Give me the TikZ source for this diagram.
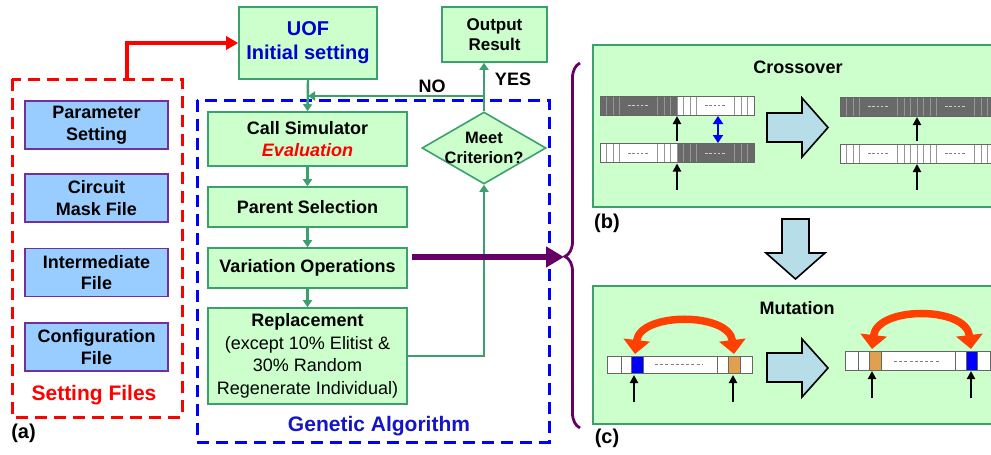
\documentclass[tikz,border=0pt]{standalone}
\usepackage{fontspec}
\setmainfont{Liberation Sans}
\usetikzlibrary{shapes.geometric,arrows.meta,decorations.pathreplacing,calc}
\definecolor{gfill}{RGB}{204,255,204}
\definecolor{gline}{RGB}{60,160,110}
\definecolor{bfill}{RGB}{153,204,255}
\definecolor{bline}{RGB}{112,48,160}
\definecolor{uofblue}{RGB}{0,0,204}
\definecolor{gablue}{RGB}{20,20,200}
\definecolor{purp}{RGB}{102,0,102}
\definecolor{lblue}{RGB}{183,221,232}
\definecolor{cellgray}{RGB}{105,105,105}
\definecolor{cellorange}{RGB}{224,160,80}
\definecolor{redarc}{RGB}{255,64,0}
\definecolor{divline}{RGB}{150,150,150}
\newcommand{\fs}[1]{\fontsize{#1}{1.2\dimexpr #1pt\relax}\selectfont}
% crossover chromosome: x0, y0, left fill, right fill, left dash colour, right dash colour
\newcommand{\xchrom}[6]{%
  \fill[#3] (#1,#2) rectangle ++(77,19);
  \fill[#4] ($(#1,#2)+(77,0)$) rectangle ++(77,19);
  \foreach \d in {6.5,13,19.5,57.5,64,70.5,77,83.5,90,96.5,134.5,141,147.5}
    \draw[cellline] ($(#1,#2)+(\d,0)$) -- ++(0,19);
  \draw[draw=gray!80!black,line width=0.9pt] (#1,#2) rectangle ++(154,19);
  \draw[#5,line width=0.7pt,dash pattern=on 2.5pt off 1.8pt] ($(#1,#2)+(28,9.5)$) -- ++(21,0);
  \draw[#6,line width=0.7pt,dash pattern=on 2.5pt off 1.8pt] ($(#1,#2)+(105,9.5)$) -- ++(21,0);
}
\begin{document}
\begin{tikzpicture}[x=1pt,y=-1pt,
  gbox/.style={draw=gline,fill=gfill,line width=1.6pt,align=center,inner sep=0pt,
    font={\fs{18}\bfseries}},
  bluebox/.style={draw=bline,fill=bfill,line width=1.6pt,align=center,inner sep=0pt,
    minimum width=143pt,minimum height=48pt,font={\fs{18}\bfseries}},
  garrow/.style={draw=gline,line width=2.4pt,-{Triangle[width=9pt,length=7pt]}},
  cellline/.style={draw=divline,line width=1pt},
  blackarrow/.style={draw=black,line width=2.2pt,-{Triangle[width=8pt,length=8pt]}},
  panel/.style={draw=gline,fill=gfill,line width=2pt,anchor=north west,inner sep=0pt},
  blockarrow/.style={draw=black,fill=lblue,line width=1.6pt,line join=miter},
  redarrow/.style={draw=redarc,line width=7.5pt,{Triangle[width=26pt,length=14pt]}-{Triangle[width=26pt,length=14pt]}},
  lbl/.style={font={\fs{18}\bfseries},inner sep=0pt}
]
\fill[white] (0,0) rectangle (991,455);
\clip (0,0) rectangle (991,455);

% ---------- (a) setting files ----------
\draw[red,line width=3pt,dash pattern=on 12pt off 7pt] (12,79) rectangle (182,417);
\node[bluebox] (param) at (96.5,125) {Parameter\\Setting};
\node[bluebox] (circ) at (96.5,198) {Circuit\\Mask File};
\node[bluebox] (inter) at (96.5,272.5) {Intermediate\\File};
\node[bluebox] (conf) at (96.5,347) {Configuration\\File};
\node[lbl,red,font={\fs{21}\bfseries}] (setf) at (94,395) {Setting Files};
\node[lbl,font={\fs{20}\bfseries}] (la) at (23.5,433) {(a)};

% ---------- GA box ----------
\draw[blue,line width=3pt,dash pattern=on 12pt off 7pt] (197,100) rectangle (549,442);
\node[lbl,gablue,font={\fs{21}\bfseries}] (gatext) at (379,426) {Genetic Algorithm};

\node[gbox,minimum width=138pt,minimum height=72pt,font={\fs{20}\bfseries},text=uofblue] (uof) at (308,43) {UOF\\Initial setting};
\node[gbox,minimum width=105pt,minimum height=55pt,font={\fs{17}\bfseries}] (out) at (494.5,34.5) {Output\\Result};
\node[gbox,minimum width=199pt,minimum height=54pt] (call) at (307.5,139) {Call Simulator\\\textcolor{red}{\itshape Evaluation}};
\node[gbox,minimum width=199pt,minimum height=40pt] (par) at (307.5,207) {Parent Selection};
\node[gbox,minimum width=199pt,minimum height=40pt] (var) at (307.5,268) {Variation Operations};
\node[gbox,minimum width=199pt,minimum height=96pt,font={\fs{18}},
  execute at begin node={\setlength{\baselineskip}{22.5pt}}] (repl) at (307.5,356)
  {\textbf{Replacement}\\(except 10\% Elitist \&\\30\% Random\\Regenerate Individual)};
\node[diamond,draw=gline,fill=gfill,line width=1.6pt,minimum width=124pt,minimum height=72pt,inner sep=0pt] (dia) at (484,148) {};
\node[align=center,inner sep=0pt,font={\fs{16.5}\bfseries}] (diatext) at (dia) {Meet\\Criterion?};

% connectors
\coordinate (nojoin) at (484,96);
\coordinate (repjoin) at (484,356);
\draw[garrow] (uof.south) -- (call.north);
\draw[garrow] (dia.north) -- (dia.north |- out.south);
\draw[garrow] (nojoin) -- (uof.south |- nojoin);
\draw[garrow] (call) -- (par);
\draw[garrow] (par) -- (var);
\draw[garrow] (var) -- (repl);
\draw[garrow] (repl.east) -- (repjoin) -- (dia.south);
\node[lbl] (no) at (432,86) {NO};
\node[lbl] (yes) at (513,79) {YES};

% red arrow from setting files to UOF
\coordinate (rstart) at (127,79);
\draw[red,line width=3.2pt,-{Triangle[width=13pt,length=12pt]}] (rstart) -- (127,43) -- (uof.west);

% purple arrow and brace
\coordinate (btip) at (564,257);
\draw[purp,line width=6pt,-{Triangle[width=20pt,length=18pt]}] ([xshift=4pt,yshift=11pt]var.east) -- (btip);
\coordinate (bbot) at (580,428);
\coordinate (btop) at (580,63);
\draw[purp,line width=2.8pt,decorate,decoration={brace,amplitude=15pt,aspect=0.47}] (bbot) -- (btop);

% ---------- (b) crossover ----------
\node[panel,minimum width=420pt,minimum height=162pt] (xpanel) at (592,44) {};
\node[lbl] (xtitle) at (798,67) {Crossover};
\xchrom{600}{96}{cellgray}{white}{gray!40}{gray}
\xchrom{600}{143.5}{white}{cellgray}{gray}{gray!40}
\xchrom{840}{97}{cellgray}{cellgray}{gray!40}{gray!40}
\xchrom{840}{144}{white}{white}{gray}{gray}
\coordinate (xa1s) at (677,141); \coordinate (xa1e) at (677,116);
\coordinate (xa2s) at (677,190); \coordinate (xa2e) at (677,163.5);
\coordinate (xa3s) at (917,141); \coordinate (xa3e) at (917,117);
\coordinate (xa4s) at (917,190); \coordinate (xa4e) at (917,164);
\draw[blackarrow] (xa1s) -- (xa1e);
\draw[blackarrow] (xa2s) -- (xa2e);
\draw[blackarrow] (xa3s) -- (xa3e);
\draw[blackarrow] (xa4s) -- (xa4e);
\coordinate (swt) at (718,116); \coordinate (swb) at (718,143);
\draw[blue,line width=2.8pt,{Triangle[width=10pt,length=8pt]}-{Triangle[width=10pt,length=8pt]}] (swt) -- (swb);
\draw[blockarrow] (767,113) -- (802,113) -- (802,98) -- (828,127.5) -- (802,157) -- (802,142) -- (767,142) -- cycle;
\node[lbl,font={\fs{20}\bfseries}] (lb) at (607,223) {(b)};

% down arrow
\draw[blockarrow] (782,219) -- (809,219) -- (809,253) -- (825,253) -- (795.5,279) -- (766,253) -- (782,253) -- cycle;

% ---------- (c) mutation ----------
\node[panel,minimum width=420pt,minimum height=138pt] (mpanel) at (592,285) {};
\node[lbl] (mtitle) at (797,308) {Mutation};
% left bar
\fill[white] (607,356) rectangle (752,373);
\fill[blue] (631,356) rectangle (643,373);
\fill[cellorange] (728,356) rectangle (740,373);
\foreach \d in {621,631,643,717,728,740} \draw[gray!80!black,line width=0.9pt] (\d,356) -- (\d,373);
\draw[gray!80!black,line width=0.9pt] (607,356) rectangle (752,373);
\draw[gray,line width=0.7pt,dash pattern=on 3pt off 2.2pt] (655,364) -- (702,364);
% right bar
\fill[white] (845,351) rectangle (990,370);
\fill[cellorange] (869,351) rectangle (881,370);
\fill[blue] (966,351) rectangle (977,370);
\foreach \d in {858,869,881,955,966,977} \draw[gray!80!black,line width=0.9pt] (\d,351) -- (\d,370);
\draw[gray!80!black,line width=0.9pt] (845,351) rectangle (990,370);
\draw[gray,line width=0.7pt,dash pattern=on 3pt off 2.2pt] (894,361) -- (940,361);
% arrows
\coordinate (ma1s) at (634,402); \coordinate (ma1e) at (634,375);
\coordinate (ma2s) at (733,402); \coordinate (ma2e) at (733,375);
\coordinate (ma3s) at (872,398); \coordinate (ma3e) at (872,371);
\coordinate (ma4s) at (971,398); \coordinate (ma4e) at (971,371);
\draw[blackarrow] (ma1s) -- (ma1e);
\draw[blackarrow] (ma2s) -- (ma2e);
\draw[blackarrow] (ma3s) -- (ma3e);
\draw[blackarrow] (ma4s) -- (ma4e);
\coordinate (rl1) at (635,354); \coordinate (rl2) at (734,354);
\coordinate (rr1) at (872,349); \coordinate (rr2) at (971,349);
\draw[redarrow] (rl1) .. controls (640,312) and (729,312) .. (rl2);
\draw[redarrow] (rr1) .. controls (877,306) and (966,306) .. (rr2);
\draw[blockarrow] (767,353) -- (802,353) -- (802,339) -- (828,368) -- (802,397) -- (802,382) -- (767,382) -- cycle;
\node[lbl,font={\fs{20}\bfseries}] (lc) at (607,438) {(c)};
\end{tikzpicture}
\end{document}
